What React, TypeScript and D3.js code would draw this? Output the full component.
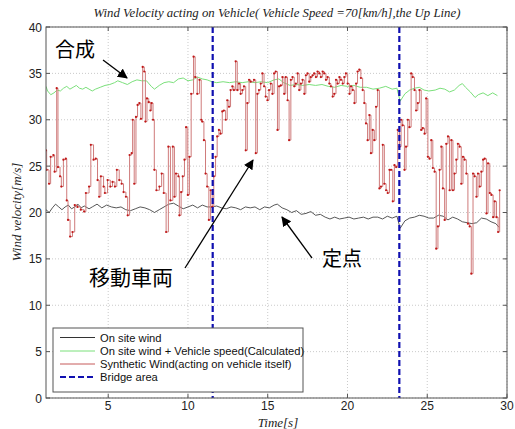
import React from "react";
import * as d3 from "d3";

const title = "Wind Velocity acting on Vehicle( Vehicle Speed =70[km/h],the Up Line)";
const xLabel = "Time[s]";
const yLabel = "Wind velocity[m/s]";
const xTicks = [5, 10, 15, 20, 25, 30];
const yTicks = [0, 5, 10, 15, 20, 25, 30, 35, 40];
const bridgeTimes = [11.55, 23.25];
const legendLabels = [
  "On site wind",
  "On site wind + Vehicle speed(Calculated)",
  "Synthetic Wind(acting on vehicle itself)",
  "Bridge area",
];

// On site wind (black)
const onSiteWind: [number, number][] = [
  [1.1, 20.3], [1.3, 20.0], [1.5, 20.5], [1.7, 20.9], [1.9, 20.6], [2.1, 20.3], [2.3, 20.6], [2.5, 20.8],
  [2.7, 20.4], [2.9, 20.6], [3.1, 20.9], [3.3, 20.5], [3.5, 20.7], [3.8, 20.4], [4.0, 20.6], [4.3, 20.9],
  [4.6, 20.5], [4.9, 20.8], [5.2, 20.6], [5.5, 20.5], [5.8, 20.6], [6.1, 20.3], [6.4, 20.2], [6.7, 20.4],
  [7.0, 20.6], [7.3, 20.5], [7.6, 20.3], [7.9, 20.0], [8.2, 20.3], [8.5, 20.6], [8.8, 20.9], [9.1, 21.0],
  [9.4, 20.7], [9.7, 20.4], [10.0, 20.6], [10.3, 20.8], [10.6, 20.5], [10.9, 20.8], [11.2, 20.6], [11.5, 20.6],
  [11.8, 20.7], [12.1, 20.5], [12.4, 20.4], [12.7, 20.6], [13.0, 20.5], [13.3, 20.3], [13.6, 20.6], [13.9, 20.5],
  [14.2, 20.6], [14.5, 20.3], [14.8, 20.6], [15.1, 20.5], [15.4, 20.8], [15.6, 20.9], [15.9, 20.5], [16.2, 20.3],
  [16.5, 20.0], [16.8, 20.2], [17.1, 19.8], [17.4, 19.9], [17.7, 20.1], [18.0, 19.7], [18.3, 19.8], [18.6, 19.5],
  [18.9, 19.3], [19.2, 19.5], [19.5, 19.3], [19.8, 19.4], [20.1, 19.5], [20.4, 19.3], [20.7, 19.4], [21.0, 19.5],
  [21.3, 19.3], [21.6, 19.5], [21.9, 19.5], [22.2, 19.3], [22.5, 19.6], [22.8, 19.4], [23.1, 19.6], [23.3, 18.3],
  [23.6, 19.1], [23.9, 19.4], [24.2, 19.5], [24.5, 19.7], [24.8, 19.6], [25.1, 19.4], [25.4, 19.4], [25.7, 19.7],
  [26.0, 19.6], [26.3, 19.2], [26.6, 19.5], [26.9, 19.3], [27.2, 19.0], [27.5, 18.9], [27.8, 18.8], [28.1, 18.9],
  [28.4, 19.4], [28.7, 19.3], [29.0, 19.0], [29.3, 18.8], [29.5, 18.4],
];

// On site wind + vehicle speed (green)
const combinedWind: [number, number][] = [
  [1.1, 33.6], [1.2, 33.1], [1.4, 32.7], [1.6, 32.9], [1.8, 33.2], [2.0, 33.1], [2.2, 33.4], [2.4, 33.6],
  [2.6, 33.3], [2.8, 33.5], [3.0, 33.7], [3.2, 33.4], [3.4, 33.3], [3.6, 33.5], [3.8, 33.3], [4.0, 33.1],
  [4.2, 33.3], [4.5, 33.5], [4.8, 33.7], [5.1, 33.8], [5.4, 34.0], [5.6, 34.2], [5.9, 34.0], [6.2, 33.8],
  [6.5, 34.1], [6.8, 34.3], [7.1, 34.2], [7.4, 34.2], [7.7, 33.6], [7.9, 33.3], [8.2, 33.7], [8.5, 34.0],
  [8.8, 34.1], [9.1, 34.0], [9.4, 34.4], [9.7, 34.5], [10.0, 34.2], [10.3, 34.3], [10.6, 34.6], [10.9, 34.4],
  [11.2, 34.3], [11.5, 34.1], [11.8, 34.0], [12.2, 34.1], [12.6, 34.0], [13.0, 34.1], [13.4, 34.0], [13.8, 34.1],
  [14.2, 34.0], [14.6, 34.1], [15.0, 34.0], [15.4, 34.3], [15.7, 34.4], [16.0, 34.0], [16.4, 33.7], [16.8, 33.8],
  [17.2, 33.7], [17.6, 33.8], [18.0, 33.7], [18.4, 33.8], [18.8, 33.6], [19.2, 33.5], [19.6, 33.7], [20.0, 33.6],
  [20.4, 33.7], [20.8, 33.5], [21.2, 33.5], [21.6, 33.3], [22.0, 33.4], [22.4, 33.6], [22.8, 33.3], [23.1, 33.4],
  [23.3, 32.0], [23.6, 32.8], [23.9, 33.2], [24.2, 33.4], [24.5, 33.5], [24.8, 33.2], [25.1, 33.1], [25.5, 33.2],
  [25.8, 33.4], [26.1, 33.3], [26.4, 33.0], [26.7, 33.2], [27.0, 33.7], [27.2, 33.9], [27.4, 33.5], [27.7, 33.0],
  [28.0, 32.4], [28.2, 32.7], [28.5, 32.9], [28.8, 32.6], [29.1, 32.9], [29.4, 32.6],
];

// Synthetic wind acting on the vehicle (red)
const syntheticWind: [number, number][] = [
  [1.1, 26.7], [1.14, 24.6], [1.29, 23.1], [1.39, 26.0], [1.56, 26.2], [1.64, 24.4], [1.77, 33.4], [1.85, 24.9],
  [1.98, 23.9], [2.06, 22.8], [2.19, 25.7], [2.34, 25.8], [2.4, 21.3], [2.48, 19.2], [2.61, 17.4], [2.76, 17.9],
  [2.9, 20.8], [3.07, 20.6], [3.28, 20.3], [3.49, 20.1], [3.6, 22.1], [3.8, 22.8], [3.91, 27.3], [4.08, 25.7],
  [4.22, 25.8], [4.33, 23.5], [4.43, 21.7], [4.54, 23.9], [4.71, 22.8], [4.79, 22.1], [4.96, 23.5], [5.13, 22.8],
  [5.27, 23.3], [5.42, 22.8], [5.54, 24.6], [5.69, 23.5], [5.84, 23.1], [5.96, 22.2], [6.11, 21.7], [6.22, 19.7],
  [6.34, 26.2], [6.47, 26.4], [6.53, 30.0], [6.63, 23.1], [6.74, 30.3], [6.84, 31.6], [6.95, 31.8], [7.05, 30.1],
  [7.16, 35.7], [7.26, 35.2], [7.33, 29.8], [7.43, 32.3], [7.54, 31.9], [7.64, 31.0], [7.72, 31.8], [7.81, 30.0],
  [7.89, 24.6], [8.02, 22.4], [8.21, 22.8], [8.35, 24.2], [8.48, 22.1], [8.63, 17.9], [8.77, 27.1], [8.9, 21.3],
  [9.05, 27.1], [9.15, 21.7], [9.25, 24.2], [9.4, 23.9], [9.46, 19.7], [9.57, 22.2], [9.67, 23.9], [9.78, 25.7],
  [9.88, 29.2], [9.99, 21.9], [10.09, 26.0], [10.2, 32.8], [10.35, 36.8], [10.45, 34.6], [10.58, 32.8], [10.72, 34.3],
  [10.83, 30.0], [10.89, 29.8], [11.0, 27.8], [11.1, 24.2], [11.2, 22.8], [11.31, 19.2], [11.42, 22.4], [11.52, 20.6],
  [11.62, 23.9], [11.73, 26.0], [11.83, 28.2], [11.94, 28.9], [12.04, 28.5], [12.15, 30.9], [12.25, 31.0], [12.36, 30.0],
  [12.46, 32.1], [12.57, 31.4], [12.67, 33.2], [12.78, 33.6], [12.88, 33.2], [12.99, 36.3], [13.09, 33.2], [13.2, 33.9],
  [13.3, 32.8], [13.41, 33.2], [13.51, 33.6], [13.62, 26.7], [13.72, 31.8], [13.83, 34.3], [13.93, 34.1], [14.14, 34.3],
  [14.25, 26.4], [14.35, 32.8], [14.45, 33.2], [14.56, 33.9], [14.66, 35.0], [14.77, 33.6], [14.87, 32.5], [14.98, 32.1],
  [15.08, 33.2], [15.19, 33.9], [15.29, 32.8], [15.4, 35.0], [15.5, 35.2], [15.61, 28.9], [15.71, 33.6], [15.82, 33.7],
  [15.92, 34.6], [16.03, 32.8], [16.13, 34.6], [16.24, 32.1], [16.34, 27.8], [16.45, 34.3], [16.55, 34.6], [16.66, 33.6],
  [16.76, 33.9], [16.87, 35.0], [16.97, 33.2], [17.08, 33.9], [17.18, 34.3], [17.29, 32.8], [17.39, 34.8], [17.49, 35.0],
  [17.6, 34.1], [17.7, 34.6], [17.81, 34.8], [17.91, 35.0], [18.02, 34.6], [18.12, 35.2], [18.23, 35.0], [18.33, 34.6],
  [18.44, 35.2], [18.54, 35.0], [18.65, 34.3], [18.75, 34.6], [18.86, 33.9], [18.96, 33.6], [19.07, 32.5], [19.17, 32.8],
  [19.28, 34.3], [19.38, 33.9], [19.49, 34.6], [19.59, 34.3], [19.7, 33.9], [19.8, 34.6], [19.9, 35.0], [20.01, 33.9],
  [20.12, 32.8], [20.22, 33.6], [20.33, 33.2], [20.43, 31.8], [20.54, 33.9], [20.63, 35.2], [20.74, 35.4], [20.84, 34.5],
  [20.95, 33.2], [21.05, 31.8], [21.16, 29.6], [21.26, 27.8], [21.37, 30.5], [21.47, 26.4], [21.58, 28.9], [21.68, 27.8],
  [21.79, 31.4], [21.89, 33.2], [22.0, 22.6], [22.1, 22.8], [22.21, 27.3], [22.31, 23.1], [22.42, 22.4], [22.52, 22.1],
  [22.63, 24.6], [22.73, 24.6], [22.84, 21.2], [22.94, 25.1], [23.05, 24.9], [23.15, 28.9], [23.26, 27.1], [23.36, 30.0],
  [23.46, 29.4], [23.57, 24.6], [23.67, 27.1], [23.78, 30.0], [23.88, 29.2], [23.99, 35.0], [24.09, 34.6], [24.2, 33.2],
  [24.3, 31.0], [24.41, 31.8], [24.51, 33.2], [24.62, 28.9], [24.72, 29.1], [24.83, 28.5], [24.93, 32.3], [25.04, 26.0],
  [25.14, 25.8], [25.25, 27.8], [25.35, 24.8], [25.46, 24.4], [25.56, 16.1], [25.67, 18.5], [25.77, 24.6], [25.88, 27.1],
  [25.98, 22.6], [26.09, 19.2], [26.19, 27.4], [26.3, 28.2], [26.4, 22.4], [26.51, 27.8], [26.61, 22.4], [26.71, 24.2],
  [26.82, 25.7], [26.92, 27.4], [27.03, 27.1], [27.13, 23.1], [27.24, 26.0], [27.34, 25.7], [27.45, 24.2], [27.55, 18.8],
  [27.66, 18.5], [27.76, 13.4], [27.87, 24.2], [27.97, 23.9], [28.08, 21.7], [28.18, 24.2], [28.29, 22.8], [28.39, 24.4],
  [28.5, 25.7], [28.6, 25.8], [28.71, 19.9], [28.81, 25.3], [28.92, 22.1], [29.02, 21.9], [29.13, 19.5], [29.23, 21.2],
  [29.34, 19.5], [29.44, 17.9], [29.54, 22.4],
];

const W = 515;
const H = 429;
const plot = { left: 46, right: 507, top: 27, bottom: 398 };

export default function App() {
  const x = d3.scaleLinear().domain([1.1, 30]).range([plot.left, plot.right]);
  const y = d3.scaleLinear().domain([0, 40]).range([plot.bottom, plot.top]);
  const line = d3.line<[number, number]>().x((d) => x(d[0])).y((d) => y(d[1]));
  const stepLine = d3
    .line<[number, number]>()
    .x((d) => x(d[0]))
    .y((d) => y(d[1]))
    .curve(d3.curveStepAfter);

  const sansFont = "'Liberation Sans', Arial, sans-serif";
  const serifFont = "'Liberation Serif', 'Times New Roman', serif";
  const cjkFont = "'Noto Sans CJK JP', sans-serif";

  const legendX = 53;
  const legendY = 328;
  const rowY = [337.5, 351, 364, 377];
  const legendStyles = [
    { stroke: "#333333", dash: "", width: 1 },
    { stroke: "#7be07b", dash: "", width: 1 },
    { stroke: "#c65a5a", dash: "", width: 1 },
    { stroke: "#1010b0", dash: "6,3", width: 2.2 },
  ];

  const arrows = [
    { x1: 103, y1: 60, x2: 127, y2: 78 },
    { x1: 185, y1: 268, x2: 253, y2: 160 },
    { x1: 312, y1: 258, x2: 282, y2: 217 },
  ];

  return (
    <div style={{ position: "absolute", left: 0, top: 0 }}>
      <svg width={W} height={H} style={{ display: "block", background: "#fff" }}>
        <defs>
          <marker id="arrowHead" viewBox="0 0 10 10" refX="9" refY="5" markerWidth="10" markerHeight="10" markerUnits="userSpaceOnUse" orient="auto">
            <path d="M0,0 L10,5 L0,10 Z" fill="#000" />
          </marker>
          <clipPath id="plotClip">
            <rect x={plot.left} y={plot.top} width={plot.right - plot.left} height={plot.bottom - plot.top} />
          </clipPath>
        </defs>
        <rect x={0} y={0} width={W} height={H} fill="#fff" />

        {/* grid */}
        {xTicks.map((t) => (
          <line key={"gx" + t} x1={x(t)} x2={x(t)} y1={plot.top} y2={plot.bottom} stroke="#bdbdbd" strokeWidth={0.8} strokeDasharray="1,2" />
        ))}
        {yTicks.map((t) => (
          <line key={"gy" + t} x1={plot.left} x2={plot.right} y1={y(t)} y2={y(t)} stroke="#bdbdbd" strokeWidth={0.8} strokeDasharray="1,2" />
        ))}

        <g clipPath="url(#plotClip)">
          <path d={line(combinedWind) || ""} fill="none" stroke="#7be07b" strokeWidth={1} />
          <path d={line(onSiteWind) || ""} fill="none" stroke="#444" strokeWidth={0.9} />
          <path d={stepLine(syntheticWind) || ""} fill="none" stroke="#cf7a7a" strokeWidth={1} />
          {syntheticWind.map((d, i) => (
            <circle key={"p" + i} cx={x(d[0])} cy={y(d[1])} r={1.1} fill="#c01818" />
          ))}
          {bridgeTimes.map((t) => (
            <line key={"b" + t} x1={x(t)} x2={x(t)} y1={plot.top} y2={plot.bottom} stroke="#1010b0" strokeWidth={2.2} strokeDasharray="6,3" />
          ))}
        </g>

        {/* frame */}
        <rect x={plot.left} y={plot.top} width={plot.right - plot.left} height={plot.bottom - plot.top} fill="none" stroke="#555" strokeWidth={1} />

        {/* ticks */}
        {xTicks.map((t) => (
          <g key={"tx" + t}>
            <line x1={x(t)} x2={x(t)} y1={plot.bottom} y2={plot.bottom - 4} stroke="#555" />
            <line x1={x(t)} x2={x(t)} y1={plot.top} y2={plot.top + 4} stroke="#555" />
            <text x={x(t)} y={plot.bottom + 12} textAnchor="middle" fontFamily={sansFont} fontSize={12} fill="#222">
              {t}
            </text>
          </g>
        ))}
        {yTicks.map((t) => (
          <g key={"ty" + t}>
            <line x1={plot.left} x2={plot.left + 4} y1={y(t)} y2={y(t)} stroke="#555" />
            <line x1={plot.right} x2={plot.right - 4} y1={y(t)} y2={y(t)} stroke="#555" />
            <text x={plot.left - 4} y={y(t) + 4.5} textAnchor="end" fontFamily={sansFont} fontSize={12} fill="#222">
              {t}
            </text>
          </g>
        ))}

        {/* titles */}
        <text x={277} y={17} textAnchor="middle" fontFamily={serifFont} fontStyle="italic" fontSize={12.8} fill="#222">
          {title}
        </text>
        <text x={278} y={427} textAnchor="middle" fontFamily={serifFont} fontStyle="italic" fontSize={13} fill="#222">
          {xLabel}
        </text>
        <text transform={`translate(21,${212}) rotate(-90)`} textAnchor="middle" fontFamily={serifFont} fontStyle="italic" fontSize={13} fill="#222">
          {yLabel}
        </text>

        {/* legend */}
        <rect x={legendX} y={legendY} width={250} height={64} fill="#fff" stroke="#555" strokeWidth={1} />
        {legendLabels.map((lab, i) => (
          <g key={"lg" + i}>
            <line x1={60} x2={95} y1={rowY[i]} y2={rowY[i]} stroke={legendStyles[i].stroke} strokeWidth={legendStyles[i].width} strokeDasharray={legendStyles[i].dash} />
            <text x={100} y={rowY[i] + 4} fontFamily={sansFont} fontSize={11.2} fill="#111">
              {lab}
            </text>
          </g>
        ))}

        {/* annotations */}
        {arrows.map((a, i) => (
          <line key={"ar" + i} x1={a.x1} y1={a.y1} x2={a.x2} y2={a.y2} stroke="#000" strokeWidth={1.3} markerEnd="url(#arrowHead)" />
        ))}
        <text x={55} y={57} fontFamily={cjkFont} fontSize={20} fill="#000">合成</text>
        <text x={89} y={285} fontFamily={cjkFont} fontSize={21} fill="#000">移動車両</text>
        <text x={322} y={266} fontFamily={cjkFont} fontSize={20} fill="#000">定点</text>
      </svg>
    </div>
  );
}
